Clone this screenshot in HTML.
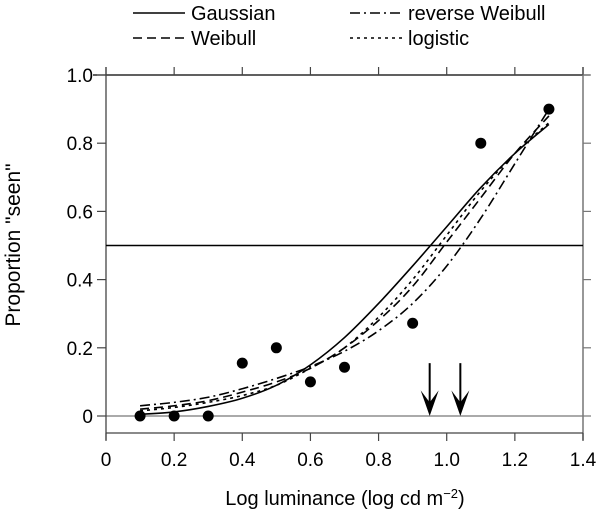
<!DOCTYPE html>
<html><head><meta charset="utf-8"><style>
body{margin:0;background:#fff}
svg{display:block;font-family:"Liberation Sans",Arial,sans-serif}
</style></head><body>
<svg id="chart" width="600" height="520" viewBox="0 0 600 520"></svg>
<script>
const xTicks=[0,0.2,0.4,0.6,0.8,1.0,1.2,1.4];
const xTickLabels=["0","0.2","0.4","0.6","0.8","1.0","1.2","1.4"];
const yTicks=[0,0.2,0.4,0.6,0.8,1.0];
const yTickLabels=["0","0.2","0.4","0.6","0.8","1.0"];
const dataX=[0.1,0.2,0.3,0.4,0.5,0.6,0.7,0.9,1.1,1.3];
const dataY=[0,0,0,0.155,0.2,0.1,0.143,0.272,0.8,0.9];
const curveX=[0.1,0.2,0.3,0.4,0.5,0.6,0.7,0.8,0.9,1.0,1.1,1.2,1.3];
const gaussianY=[0.005,0.012,0.028,0.052,0.09,0.15,0.23,0.33,0.44,0.555,0.67,0.77,0.855];
const weibullY=[0.02,0.03,0.045,0.07,0.1,0.14,0.2,0.28,0.38,0.51,0.64,0.77,0.88];
const revWeibullY=[0.03,0.04,0.055,0.08,0.11,0.145,0.19,0.25,0.33,0.44,0.58,0.74,0.9];
const logisticY=[0.015,0.025,0.04,0.06,0.09,0.14,0.2,0.29,0.4,0.53,0.66,0.77,0.86];
const thresholds=[0.95,1.04];
const criterion=0.5;

const svg=document.getElementById('chart');
const NS='http://www.w3.org/2000/svg';
const X=v=>106+v*(583-106)/1.4;
const Y=v=>416-v*(416-75);
function mk(tag,attrs,parent){const e=document.createElementNS(NS,tag);for(const k in attrs)e.setAttribute(k,attrs[k]);(parent||svg).appendChild(e);return e;}

let e;
e=mk('line',{x1:X(0),y1:Y(0),x2:X(1.4),y2:Y(0),stroke:'#aaa','stroke-width':2});


e=mk('line',{x1:93,y1:75,x2:590,y2:75,stroke:'#000','stroke-width':1.3});


e=mk('line',{x1:106,y1:67,x2:106,y2:440,stroke:'#444','stroke-width':1.3});


e=mk('line',{x1:583,y1:67,x2:583,y2:440,stroke:'#777','stroke-width':1.5});


e=mk('line',{x1:106,y1:433,x2:583,y2:433,stroke:'#444','stroke-width':1.3});



xTicks.forEach((t,i)=>{
  mk('line',{x1:X(t),y1:433,x2:X(t),y2:441,stroke:'#444','stroke-width':1.2});
  mk('line',{x1:X(t),y1:67,x2:X(t),y2:75,stroke:'#444','stroke-width':1.2});
  const tx=mk('text',{x:X(t),y:466,'text-anchor':'middle','font-size':19});
  tx.textContent=xTickLabels[i];
  
  
});
yTicks.forEach((t,i)=>{
  mk('line',{x1:97,y1:Y(t),x2:106,y2:Y(t),stroke:'#444','stroke-width':1.2});
  mk('line',{x1:583,y1:Y(t),x2:591,y2:Y(t),stroke:'#777','stroke-width':1.2});
  const tx=mk('text',{x:93,y:Y(t)+7,'text-anchor':'end','font-size':19});
  tx.textContent=yTickLabels[i];
  
  
});

e=mk('line',{x1:106,y1:Y(criterion),x2:583,y2:Y(criterion),stroke:'#000','stroke-width':1.5});



function path(ys){
  const p=curveX.map((x,i)=>[X(x),Y(ys[i])]);
  let d='M'+p[0][0]+','+p[0][1];
  for(let i=0;i<p.length-1;i++){
    const p0=p[i-1]||p[i],p1=p[i],p2=p[i+1],p3=p[i+2]||p2;
    const c1=[p1[0]+(p2[0]-p0[0])/6,p1[1]+(p2[1]-p0[1])/6];
    const c2=[p2[0]-(p3[0]-p1[0])/6,p2[1]-(p3[1]-p1[1])/6];
    d+=` C${c1[0]},${c1[1]} ${c2[0]},${c2[1]} ${p2[0]},${p2[1]}`;
  }
  return d;
}
e=mk('path',{d:path(gaussianY),fill:'none',stroke:'#000','stroke-width':1.6});


e=mk('path',{d:path(weibullY),fill:'none',stroke:'#000','stroke-width':1.6,'stroke-dasharray':'9,5'});


e=mk('path',{d:path(revWeibullY),fill:'none',stroke:'#000','stroke-width':1.6,'stroke-dasharray':'10,4,2,4'});


e=mk('path',{d:path(logisticY),fill:'none',stroke:'#000','stroke-width':1.6,'stroke-dasharray':'3,4'});



dataX.forEach((x,i)=>{
  const c=mk('circle',{cx:X(x),cy:Y(dataY[i]),r:5.5,fill:'#000'});
  
  
});

thresholds.forEach(t=>{
  const g=mk('g',{});
  
  
  mk('line',{x1:X(t),y1:Y(0.155),x2:X(t),y2:Y(0.03),stroke:'#000','stroke-width':2},g);
  mk('path',{d:`M${X(t)-9},${Y(0.075)} L${X(t)},${Y(0)} L${X(t)+9},${Y(0.075)} L${X(t)},${Y(0.04)} Z`,fill:'#000'},g);
});

const leg=[
  ['Gaussian',133,13,'none'],['reverse Weibull',350,13,'10,4,2,4'],
  ['Weibull',133,38,'9,5'],['logistic',350,38,'3,4']];
leg.forEach(l=>{
  const g=mk('g',{});
  
  
  mk('line',{x1:l[1],y1:l[2],x2:l[1]+52,y2:l[2],stroke:'#000','stroke-width':1.6,'stroke-dasharray':l[3]},g);
  const t=mk('text',{x:l[1]+58,y:l[2]+7,'font-size':20},g);
  t.textContent=l[0];
});

e=mk('text',{x:345,y:505,'text-anchor':'middle','font-size':20});
e.innerHTML='Log luminance (log cd m<tspan dy="-7" font-size="13">−2</tspan><tspan dy="7">)</tspan>';


e=mk('text',{x:0,y:0,'text-anchor':'middle','font-size':21,transform:'translate(20,245) rotate(-90)'});
e.textContent='Proportion "seen"';


</script>
</body></html>
